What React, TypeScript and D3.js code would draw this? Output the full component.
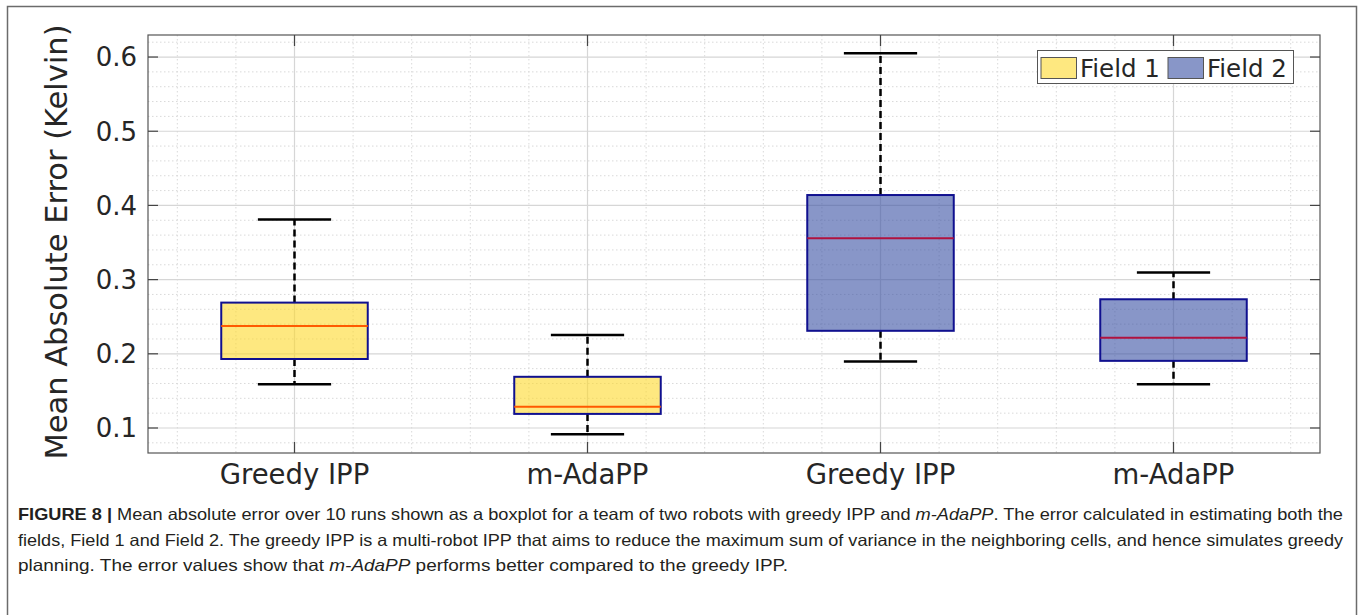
import React from "react";
import * as d3 from "d3";

// Box statistics per group (Mean Absolute Error, Kelvin)
const categories = ["Greedy IPP", "m-AdaPP", "Greedy IPP", "m-AdaPP"];
const groupField = ["Field 1", "Field 1", "Field 2", "Field 2"];
const whiskerLow = [0.159, 0.0915, 0.1895, 0.159];
const quartile1 = [0.193, 0.119, 0.231, 0.1905];
const medians = [0.2375, 0.1285, 0.3557, 0.2217];
const quartile3 = [0.269, 0.169, 0.414, 0.2735];
const whiskerHigh = [0.381, 0.2253, 0.605, 0.3095];

const yTickValues = [0.1, 0.2, 0.3, 0.4, 0.5, 0.6];
const yTickLabels = ["0.1", "0.2", "0.3", "0.4", "0.5", "0.6"];
const legendLabels = ["Field 1", "Field 2"];

const W = 1360;
const H = 615;
const plot = { left: 148, right: 1320, top: 35, bottom: 453 };

const fieldStyle: Record<string, { fill: string; median: string }> = {
  "Field 1": { fill: "#fdd92b", median: "#ff5a00" },
  "Field 2": { fill: "#3950a3", median: "#b0123f" },
};
const edge = "#10108f";
const textColor = "#262626";
const axisFont = "'DejaVu Sans', Verdana, sans-serif";
const captionFont = "'Liberation Sans Narrow', 'Liberation Sans', Arial, sans-serif";

export default function App() {
  const x = d3.scaleLinear().domain([0.5, 4.5]).range([plot.left, plot.right]);
  const y = d3.scaleLinear().domain([0.0663, 0.6297]).range([plot.bottom, plot.top]);

  const minorY = d3.range(0.08, 0.621, 0.02).filter(
    (v) => !yTickValues.some((t) => Math.abs(t - v) < 1e-6)
  );
  const minorX = d3.range(0.6, 4.41, 0.2).filter((v) => Math.abs(v - Math.round(v)) > 1e-6);
  const majorX = d3.range(1, categories.length + 1);

  const boxHalf = 0.25;
  const capHalf = 0.125;

  return (
    <svg
      width={W}
      height={H}
      viewBox={`0 0 ${W} ${H}`}
      style={{ position: "absolute", left: 0, top: 0, background: "#fff" }}
    >
      {/* figure frame */}
      <rect x={7.5} y={6.5} width={1349} height={H + 10} fill="none" stroke="#6b6b6b" strokeWidth={1.5} />

      {/* minor grid */}
      <g stroke="#d9d9d9" strokeWidth={1} strokeDasharray="1.5,2.5">
        {minorY.map((v) => (
          <line key={"my" + v} x1={plot.left} x2={plot.right} y1={y(v)} y2={y(v)} />
        ))}
        {minorX.map((v) => (
          <line key={"mx" + v} x1={x(v)} x2={x(v)} y1={plot.top} y2={plot.bottom} />
        ))}
      </g>
      {/* major grid */}
      <g stroke="#d6d6d6" strokeWidth={1.2}>
        {yTickValues.map((v) => (
          <line key={"gy" + v} x1={plot.left} x2={plot.right} y1={y(v)} y2={y(v)} />
        ))}
        {majorX.map((v) => (
          <line key={"gx" + v} x1={x(v)} x2={x(v)} y1={plot.top} y2={plot.bottom} />
        ))}
      </g>

      {/* boxes */}
      {categories.map((c, i) => {
        const cx = x(i + 1);
        const st = fieldStyle[groupField[i]];
        const bx0 = x(i + 1 - boxHalf);
        const bx1 = x(i + 1 + boxHalf);
        const cx0 = x(i + 1 - capHalf);
        const cx1 = x(i + 1 + capHalf);
        return (
          <g key={"box" + i}>
            <line x1={cx} x2={cx} y1={y(quartile3[i])} y2={y(whiskerHigh[i])} stroke="#000" strokeWidth={2.5} strokeDasharray="7,4" />
            <line x1={cx} x2={cx} y1={y(quartile1[i])} y2={y(whiskerLow[i])} stroke="#000" strokeWidth={2.5} strokeDasharray="7,4" />
            <line x1={cx0} x2={cx1} y1={y(whiskerHigh[i])} y2={y(whiskerHigh[i])} stroke="#000" strokeWidth={2.5} />
            <line x1={cx0} x2={cx1} y1={y(whiskerLow[i])} y2={y(whiskerLow[i])} stroke="#000" strokeWidth={2.5} />
            <rect
              x={bx0}
              y={y(quartile3[i])}
              width={bx1 - bx0}
              height={y(quartile1[i]) - y(quartile3[i])}
              fill={st.fill}
              fillOpacity={0.6}
              stroke={edge}
              strokeWidth={2}
            />
            <line x1={bx0} x2={bx1} y1={y(medians[i])} y2={y(medians[i])} stroke={st.median} strokeWidth={2} />
          </g>
        );
      })}

      {/* axes box and ticks */}
      <rect
        x={plot.left}
        y={plot.top}
        width={plot.right - plot.left}
        height={plot.bottom - plot.top}
        fill="none"
        stroke="#555"
        strokeWidth={1.2}
      />
      <g stroke="#444" strokeWidth={1.2}>
        {yTickValues.map((v) => (
          <g key={"ty" + v}>
            <line x1={plot.left} x2={plot.left + 10} y1={y(v)} y2={y(v)} />
            <line x1={plot.right - 10} x2={plot.right} y1={y(v)} y2={y(v)} />
          </g>
        ))}
        {majorX.map((v) => (
          <g key={"tx" + v}>
            <line x1={x(v)} x2={x(v)} y1={plot.top} y2={plot.top + 11} />
            <line x1={x(v)} x2={x(v)} y1={plot.bottom - 11} y2={plot.bottom} />
          </g>
        ))}
      </g>

      {/* tick labels */}
      <g fontFamily={axisFont} fill={textColor}>
        {yTickValues.map((v, i) => (
          <text key={"yl" + v} x={137} y={y(v)} dy="0.36em" fontSize={26} textAnchor="end">
            {yTickLabels[i]}
          </text>
        ))}
        {categories.map((c, i) => (
          <text key={"xl" + i} x={x(i + 1)} y={484} fontSize={27.5} textAnchor="middle">
            {c}
          </text>
        ))}
        <text
          transform={`translate(67, ${(plot.top + plot.bottom) / 2 - 2}) rotate(-90)`}
          fontSize={30.5}
          textAnchor="middle"
        >
          Mean Absolute Error (Kelvin)
        </text>
      </g>

      {/* legend */}
      <g fontFamily={axisFont}>
        <rect x={1037.5} y={50.5} width={256} height={33} fill="#fff" stroke="#555" strokeWidth={1} />
        {legendLabels.map((lab, i) => {
          const sx = i === 0 ? 1041 : 1168;
          return (
            <g key={lab}>
              <rect x={sx} y={57.5} width={35.5} height={21} fill={fieldStyle[lab].fill} fillOpacity={0.6} stroke="#555" strokeWidth={1} />
              <text x={sx + 39} y={76.5} fontSize={24.5} fill={textColor}>
                {lab}
              </text>
            </g>
          );
        })}
      </g>

      {/* caption */}
      <g fontFamily={captionFont} fontSize={16.5} fill="#231f20">
        <text x={18} y={520} textLength={1325} lengthAdjust="spacingAndGlyphs">
          <tspan fontWeight="bold">FIGURE 8 |</tspan>
          <tspan> Mean absolute error over 10 runs shown as a boxplot for a team of two robots with greedy IPP and </tspan>
          <tspan fontStyle="italic">m-AdaPP</tspan>
          <tspan>. The error calculated in estimating both the</tspan>
        </text>
        <text x={18} y={545.5} textLength={1325} lengthAdjust="spacingAndGlyphs">
          fields, Field 1 and Field 2. The greedy IPP is a multi-robot IPP that aims to reduce the maximum sum of variance in the neighboring cells, and hence simulates greedy
        </text>
        <text x={18} y={571} textLength={770} lengthAdjust="spacingAndGlyphs">
          <tspan>planning. The error values show that </tspan>
          <tspan fontStyle="italic">m-AdaPP</tspan>
          <tspan> performs better compared to the greedy IPP.</tspan>
        </text>
      </g>
    </svg>
  );
}
